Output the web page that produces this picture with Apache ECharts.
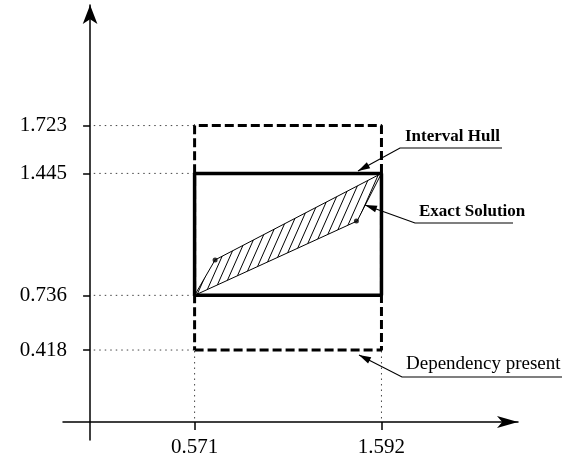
<!DOCTYPE html>
<html>
<head>
<meta charset="utf-8">
<script src="https://cdn.jsdelivr.net/npm/echarts@6/dist/echarts.min.js"></script>
<style>
html,body{margin:0;padding:0;background:#fff;}
#main{width:574px;height:464px;}
</style>
</head>
<body>
<div id="main"></div>
<script>
// tick values on both axes
var xTicks = [0.571, 1.592];
var yTicks = [0.418, 0.736, 1.445, 1.723];
// interval hull (solid box) and box with dependency present (dashed)
var hullX = [0.571, 1.592];
var hullY = [0.736, 1.445];
var depX = [0.571, 1.592];
var depY = [0.418, 1.723];
// exact solution set (hatched polygon)
var exactPts = [[0.571, 0.736], [0.683, 0.942], [1.592, 1.445], [1.459, 1.168]];
var exactDots = [[0.683, 0.942], [1.455, 1.168]];

var FONT = '"Liberation Serif", "Times New Roman", serif';

function box(xs, ys) {
    return [[xs[0], ys[0]], [xs[1], ys[0]], [xs[1], ys[1]], [xs[0], ys[1]], [xs[0], ys[0]]];
}

// hatch pattern
var cvs = document.createElement('canvas');
cvs.width = 8; cvs.height = 18;
var g = cvs.getContext('2d');
g.strokeStyle = '#000';
g.lineWidth = 1;
g.beginPath();
g.moveTo(0, 18); g.lineTo(8, 0);
g.moveTo(-8, 18); g.lineTo(0, 0);
g.moveTo(8, 18); g.lineTo(16, 0);
g.stroke();

var guideSeries = [];
yTicks.forEach(function (v) {
    guideSeries.push({
        type: 'line', symbol: 'none', silent: true,
        data: [[0.02, v], [xTicks[0], v]],
        lineStyle: {color: '#444', width: 1, type: [1.5, 4]}
    });
});
xTicks.forEach(function (v) {
    guideSeries.push({
        type: 'line', symbol: 'none', silent: true,
        data: [[v, 0.02], [v, depY[0]]],
        lineStyle: {color: '#444', width: 1, type: [1.5, 4]}
    });
});

function arrowHead(tip, from, len, wid) {
    var dx = from[0] - tip[0], dy = from[1] - tip[1];
    var d = Math.sqrt(dx * dx + dy * dy);
    var ux = dx / d, uy = dy / d;
    var bx = tip[0] + ux * len, by = tip[1] + uy * len;
    return [tip, [bx - uy * wid / 2, by + ux * wid / 2], [bx + uy * wid / 2, by - ux * wid / 2]];
}

function note(text, bold, size, tx, ty, ulA, ulB, tip) {
    return [
        {type: 'text', style: {text: text, x: tx, y: ty, font: (bold ? 'bold ' : '') + size + 'px ' + FONT,
            fill: '#000', textVerticalAlign: 'middle', verticalAlign: 'middle'}},
        {type: 'polyline', shape: {points: [[ulB, ulA[1]], ulA, tip]}, style: {stroke: '#000', lineWidth: 1.2, fill: null}},
        {type: 'polygon', shape: {points: arrowHead(tip, ulA, 12, 7)}, style: {fill: '#000'}}
    ];
}

var graphics = [].concat(
    note('Interval Hull', true, 17, 405, 137, [400, 148], 502, [358, 171]),
    note('Exact Solution', true, 17, 419, 212, [415, 223], 513, [365, 205]),
    note('Dependency present', false, 19, 406, 364, [402, 377], 562, [359, 355])
);

var myChart = echarts.init(document.getElementById('main'));
var option = {
    backgroundColor: '#fff',
    animation: false,
    grid: {left: 63, right: 56, top: 5, bottom: 24, containLabel: false, outerBoundsMode: 'none'},
    xAxis: {
        type: 'value', min: -0.148, max: 2.338,
        splitLine: {show: false},
        axisLine: {onZero: true, symbol: ['none', 'arrow'], symbolSize: [9, 21],
            lineStyle: {color: '#000', width: 1.5}},
        axisTick: {customValues: xTicks, length: 8, lineStyle: {color: '#000', width: 1.5}},
        axisLabel: {customValues: xTicks, margin: -3, color: '#000', fontSize: 21, fontFamily: FONT,
            formatter: function (v) { return v.toFixed(3); }}
    },
    yAxis: {
        type: 'value', min: -0.105, max: 2.424,
        splitLine: {show: false},
        axisLine: {onZero: true, symbol: ['none', 'arrow'], symbolSize: [11, 19],
            lineStyle: {color: '#000', width: 1.5}},
        axisTick: {customValues: yTicks, length: 7, lineStyle: {color: '#000', width: 1.5}},
        axisLabel: {customValues: yTicks, margin: -4, color: '#000', fontSize: 21, fontFamily: FONT,
            formatter: function (v) { return v.toFixed(3); }}
    },
    graphic: graphics,
    series: guideSeries.concat([
        {
            type: 'custom', silent: true,
            data: exactPts,
            renderItem: function (params, api) {
                if (params.dataIndex !== 0) return null;
                var pts = exactPts.map(function (p) { return api.coord(p); });
                return {
                    type: 'polygon',
                    shape: {points: pts},
                    style: {fill: {image: cvs, repeat: 'repeat'}, stroke: '#000', lineWidth: 1}
                };
            }
        },
        {
            type: 'line', symbol: 'none', silent: true,
            data: box(depX, depY),
            lineStyle: {color: '#000', width: 3, type: [9, 4]}
        },
        {
            type: 'line', symbol: 'none', silent: true,
            data: box(hullX, hullY),
            lineStyle: {color: '#000', width: 3.5}
        },
        {
            type: 'scatter', silent: true,
            data: exactDots, symbolSize: 5,
            itemStyle: {color: '#000'}
        }
    ])
};
myChart.setOption(option);
window.onresize = myChart.resize;
</script>
</body>
</html>
